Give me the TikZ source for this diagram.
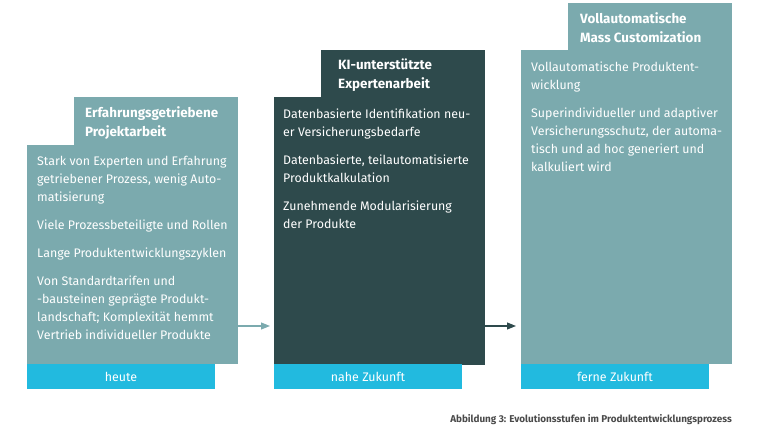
\documentclass[tikz,border=0pt]{standalone}
\usepackage{fontspec}
\setmainfont{Fira Sans}
\usetikzlibrary{arrows.meta}
\definecolor{stageA}{HTML}{7BAAAE}
\definecolor{stageB}{HTML}{2E4A4C}
\definecolor{barcyan}{HTML}{22BADF}
\definecolor{captiongray}{HTML}{4A4A4A}
\begin{document}
\begin{tikzpicture}[x=1pt,y=-1pt,
  panel/.style={draw=none, inner sep=0, outer sep=0, anchor=north west},
  bodytext/.style={anchor=north west, inner sep=0, align=left, text=white, font=\fontsize{12.4}{18}\selectfont},
  titletext/.style={anchor=north west, inner sep=0, align=left, text=white, font=\fontsize{13.4}{19}\selectfont\bfseries},
  bartext/.style={text=white, inner sep=0, font=\fontsize{12.4}{14}\selectfont},
  flow/.style={line width=1.1pt, -{Triangle[length=9pt,width=7pt]}}
]
\useasboundingbox (0,0) rectangle (760,430);
% stage 1
\node[panel, fill=stageA, minimum width=211, minimum height=219] (body1) at (27,145) {};
\node[panel, fill=stageA, minimum width=164, minimum height=49] (tab1) at (74,97) {};
\node[panel, fill=barcyan, minimum width=188, minimum height=25] (bar1) at (27,364) {};
% stage 2
\node[panel, fill=stageB, minimum width=211, minimum height=268] (body2) at (274,97) {};
\node[panel, fill=stageB, minimum width=164, minimum height=48] (tab2) at (321,50) {};
\node[panel, fill=barcyan, minimum width=188, minimum height=25] (bar2) at (274,364) {};
% stage 3
\node[panel, fill=stageA, minimum width=211, minimum height=314] (body3) at (521,50) {};
\node[panel, fill=stageA, minimum width=164, minimum height=48] (tab3) at (568,3) {};
\node[panel, fill=barcyan, minimum width=188, minimum height=25] (bar3) at (521,364) {};
% titles
\node[titletext] (title1) at (85,106) {Erfahrungsgetriebene\\Projektarbeit};
\node[titletext] (title2) at (338,59) {KI-unterstützte\\Expertenarbeit};
\node[titletext] (title3) at (580,12) {Vollautomatische\\Mass Customization};
% body texts
\node[bodytext] (text1) at (37,156) {Stark von Experten und Erfahrung\\getriebener Prozess, wenig Auto-\\matisierung\\[10pt]
Viele Prozessbeteiligte und Rollen\\[10pt]
Lange Produktentwicklungszyklen\\[10pt]
Von Standardtarifen und\\-bausteinen geprägte Produkt-\\landschaft; Komplexität hemmt\\Vertrieb individueller Produkte};
\node[bodytext] (text2) at (283,109) {Datenbasierte Identifikation neu-\\er Versicherungsbedarfe\\[10pt]
Datenbasierte, teilautomatisierte\\Produktkalkulation\\[10pt]
Zunehmende Modularisierung\\der Produkte};
\node[bodytext] (text3) at (531,62) {Vollautomatische Produktent-\\wicklung\\[10pt]
Superindividueller und adaptiver\\Versicherungsschutz, der automa-\\tisch und ad hoc generiert und\\kalkuliert wird};
% bar labels
\node[bartext] (label1) at (bar1.center) {heute};
\node[bartext] (label2) at (bar2.center) {nahe Zukunft};
\node[bartext] (label3) at (bar3.center) {ferne Zukunft};
% arrows
\coordinate (a1s) at (238,326);
\coordinate (a1e) at (270,326);
\coordinate (a2s) at (485,326);
\coordinate (a2e) at (516,326);
\draw[flow, draw=stageA, fill=stageA] (a1s) -- (a1e);
\draw[flow, draw=stageB, fill=stageB] (a2s) -- (a2e);
% caption
\node[anchor=base east, inner sep=0, text=captiongray, font=\fontsize{9.9}{11}\selectfont\bfseries] (caption) at (732,422) {Abbildung 3: Evolutionsstufen im Produktentwicklungsprozess};
\end{tikzpicture}
\end{document}
